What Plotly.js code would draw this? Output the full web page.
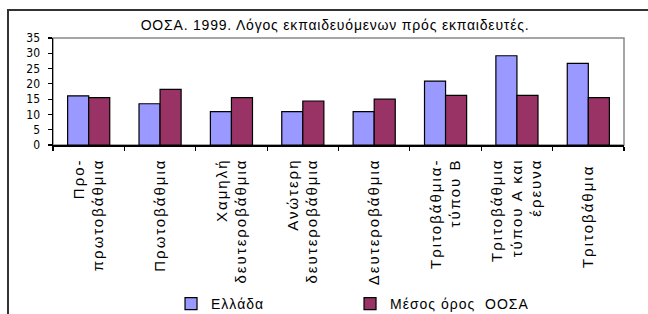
<!DOCTYPE html>
<html>
<head>
<meta charset="utf-8">
<script src="https://cdn.plot.ly/plotly-3.0.1.min.js"></script>
<style>
  html, body { margin: 0; padding: 0; background: #fff; }
  #wrap { position: relative; width: 648px; height: 314px; overflow: hidden; }
  #chart { position: absolute; left: 0; top: 0; width: 648px; height: 314px; }
  #frame { position: absolute; left: 7px; top: 9px; width: 700px; height: 400px;
           border-left: 2px solid #333; border-top: 2px solid #333; pointer-events: none; }
  .xtick text { letter-spacing: 2px; }
  .legendtext { letter-spacing: 1px; }
  .gtitle { letter-spacing: 0.8px; }
</style>
</head>
<body>
<div id="wrap">
  <div id="chart"></div>
  <div id="frame"></div>
</div>
<script>
// ---- data ----
const categories = [
  "Προ-<br>πρωτοβάθμια",
  "Πρωτοβάθμια",
  "Χαμηλή<br>δευτεροβάθμια",
  "Ανώτερη<br>δευτεροβάθμια",
  "Δευτεροβάθμια",
  "Τριτοβάθμια-<br>τύπου Β",
  "Τριτοβάθμια<br>τύπου Α και<br>έρευνα",
  "Τριτοβάθμια "
];
const greece = [16.1, 13.5, 10.9, 10.9, 10.9, 20.9, 29.2, 26.7];
const oecd   = [15.5, 18.2, 15.5, 14.4, 15.0, 16.2, 16.2, 15.5];
const seriesNames = ["Ελλάδα", "Μέσος όρος  ΟΟΣΑ"];
const chartTitle = "ΟΟΣΑ. 1999. Λόγος εκπαιδευόμενων πρός εκπαιδευτές.";
const yTicks = [0, 5, 10, 15, 20, 25, 30, 35];

const font = '"Liberation Sans", Arial, sans-serif';
const narrow = '"Liberation Sans Narrow", "DejaVu Sans Condensed", "Liberation Sans", Arial, sans-serif';

const traces = [
  { type: "bar", x: categories, y: greece, name: seriesNames[0],
    marker: { color: "#9999FF", line: { color: "#000", width: 1.2 } } },
  { type: "bar", x: categories, y: oecd, name: seriesNames[1],
    marker: { color: "#993366", line: { color: "#000", width: 1.2 } } }
];

const layout = {
  width: 648, height: 314,
  margin: { l: 53, r: 24, t: 38, b: 169, pad: 0, autoexpand: false },
  paper_bgcolor: "#fff", plot_bgcolor: "#fff",
  font: { family: font, color: "#000", size: 12 },
  title: { text: chartTitle, font: { family: font, size: 14, color: "#000" },
           x: 0.494, xanchor: "center", xref: "paper", y: 0.92, yanchor: "middle", yref: "container" },
  barmode: "group", bargap: 0.41, bargroupgap: 0,
  showlegend: true,
  legend: { orientation: "h", x: 0.2067, xanchor: "left", y: -1.486, yanchor: "middle",
            bgcolor: "rgba(0,0,0,0)",
            font: { family: font, size: 14, color: "#000" },
            entrywidth: 134, entrywidthmode: "pixels", traceorder: "normal", itemclick: false },
  xaxis: {
    type: "category", showline: true, linecolor: "#000", linewidth: 1.5,
    ticks: "outside", ticklen: 4, tickcolor: "#000", tickwidth: 1.2, tickson: "boundaries",
    tickangle: -90, tickfont: { family: font, size: 15, color: "#000" },
    ticklabelstandoff: 6, showgrid: false, zeroline: false, automargin: false, fixedrange: true
  },
  yaxis: {
    range: [0, 35], tickvals: yTicks, ticktext: yTicks.map(String),
    showline: true, linecolor: "#000", linewidth: 1.5,
    ticks: "outside", ticklen: 4, tickcolor: "#000", tickwidth: 1.2,
    tickfont: { family: narrow, size: 12, color: "#000" }, ticklabelstandoff: 5,
    showgrid: false, zeroline: false, automargin: false, fixedrange: true
  },
  shapes: [
    { type: "rect", xref: "paper", yref: "paper", x0: 0, x1: 1, y0: 0, y1: 1,
      line: { color: "#888", width: 1.5 }, layer: "below" }
  ]
};

Plotly.newPlot("chart", traces, layout, { staticPlot: true, displayModeBar: false });
</script>
</body>
</html>
